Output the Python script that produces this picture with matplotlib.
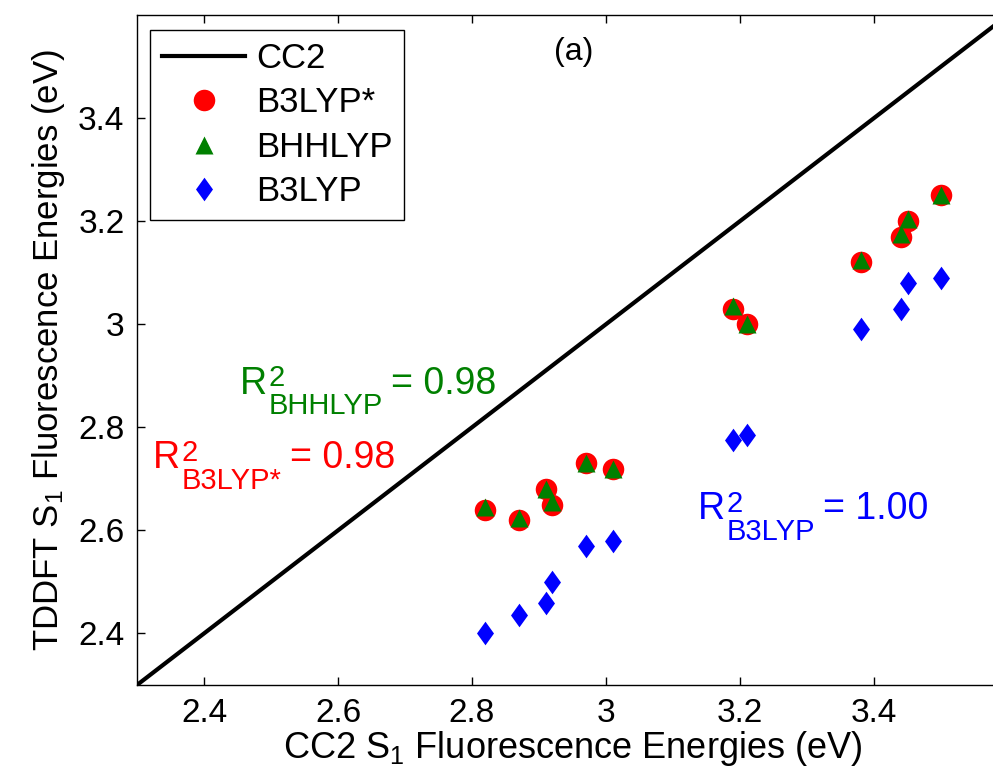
import matplotlib
matplotlib.use("Agg")
import matplotlib.pyplot as plt
import numpy as np

plt.rcParams['font.family'] = ['Liberation Sans', 'DejaVu Sans']
plt.rcParams['mathtext.fontset'] = 'custom'
plt.rcParams['mathtext.rm'] = 'Liberation Sans'
plt.rcParams['mathtext.it'] = 'Liberation Sans'

# CC2 reference energies (x) and TDDFT energies (y)
cc2 = [2.82, 2.87, 2.91, 2.92, 2.97, 3.01, 3.19, 3.21, 3.38, 3.44, 3.45, 3.50]
b3lyp_star = [2.64, 2.62, 2.68, 2.65, 2.73, 2.72, 3.03, 3.00, 3.12, 3.17, 3.20, 3.25]
bhhlyp = [2.645, 2.625, 2.68, 2.655, 2.73, 2.72, 3.035, 3.00, 3.125, 3.175, 3.205, 3.25]
b3lyp = [2.40, 2.435, 2.46, 2.50, 2.57, 2.58, 2.775, 2.785, 2.99, 3.03, 3.08, 3.09]
diag = [2.3, 3.6]

# R^2 annotations: (subscript, value text, colour, x, y baseline)
r2_notes = [
    ('BHHLYP', '0.98', 'green', 2.454, 2.865),
    ('B3LYP*', '0.98', 'red', 2.324, 2.721),
    ('B3LYP', '1.00', 'blue', 3.137, 2.622),
]

diamond = [(0, 1), (0.72, 0), (0, -1), (-0.72, 0), (0, 1)]

fig = plt.figure(figsize=(9.93, 7.83), dpi=100)
ax = fig.add_axes([137 / 993, 98 / 783, 871 / 993, 670 / 783])

ax.plot(diag, diag, color='black', lw=3, label='CC2')
ax.plot(cc2, b3lyp_star, 'o', color='red', ms=15.5, mec='none', label='B3LYP*')
ax.plot(cc2, bhhlyp, '^', color='green', ms=12.5, mec='none', label='BHHLYP')
ax.plot(cc2, b3lyp, ls='none', marker=diamond, color='blue', ms=17, mec='none', label='B3LYP')

ax.set_xlim(2.3, 3.6)
ax.set_ylim(2.3, 3.6)
ticks = [2.4, 2.6, 2.8, 3.0, 3.2, 3.4]
tick_labels = ['2.4', '2.6', '2.8', '3', '3.2', '3.4']
ax.set_xticks(ticks)
ax.set_xticklabels(tick_labels)
ax.set_yticks(ticks)
ax.set_yticklabels(tick_labels)
ax.tick_params(direction='in', length=6, width=1, top=True, right=True,
               labelsize=24, pad=9)
for sp in ax.spines.values():
    sp.set_linewidth(1)

ax.set_xlabel('CC2 S$_1$ Fluorescence Energies (eV)', fontsize=26, labelpad=0)
ax.set_ylabel('TDDFT S$_1$ Fluorescence Energies (eV)', fontsize=25, labelpad=8)

# R^2 labels built from pieces so the sub/superscripts are large like the original
for sub, val, col, x, y in r2_notes:
    t_r = ax.text(x, y, 'R', color=col, fontsize=27, va='baseline')
    ax.annotate('2', xy=(1, 1), xycoords=t_r, xytext=(1, 1),
                textcoords='offset points', color=col, fontsize=21,
                ha='left', va='top')
    t_sub = ax.annotate(sub, xy=(1, 0), xycoords=t_r, xytext=(1, -9),
                        textcoords='offset points', color=col, fontsize=21,
                        ha='left', va='baseline')
    ax.annotate('= ' + val, xy=(1, 0), xycoords=(t_sub, t_r), xytext=(6, 0),
                textcoords='offset points', color=col, fontsize=27,
                ha='left', va='bottom')

ax.text(2.952, 3.529, '(a)', fontsize=23, ha='center', va='center')

leg = ax.legend(loc='upper left', fontsize=25, fancybox=False, edgecolor='black',
                framealpha=1, handlelength=2.4, borderpad=0.35, labelspacing=0.33,
                handletextpad=0.3, borderaxespad=0, bbox_to_anchor=(0.0148, 0.978))
leg.get_frame().set_linewidth(1)

fig.savefig('out.png', dpi=100)
